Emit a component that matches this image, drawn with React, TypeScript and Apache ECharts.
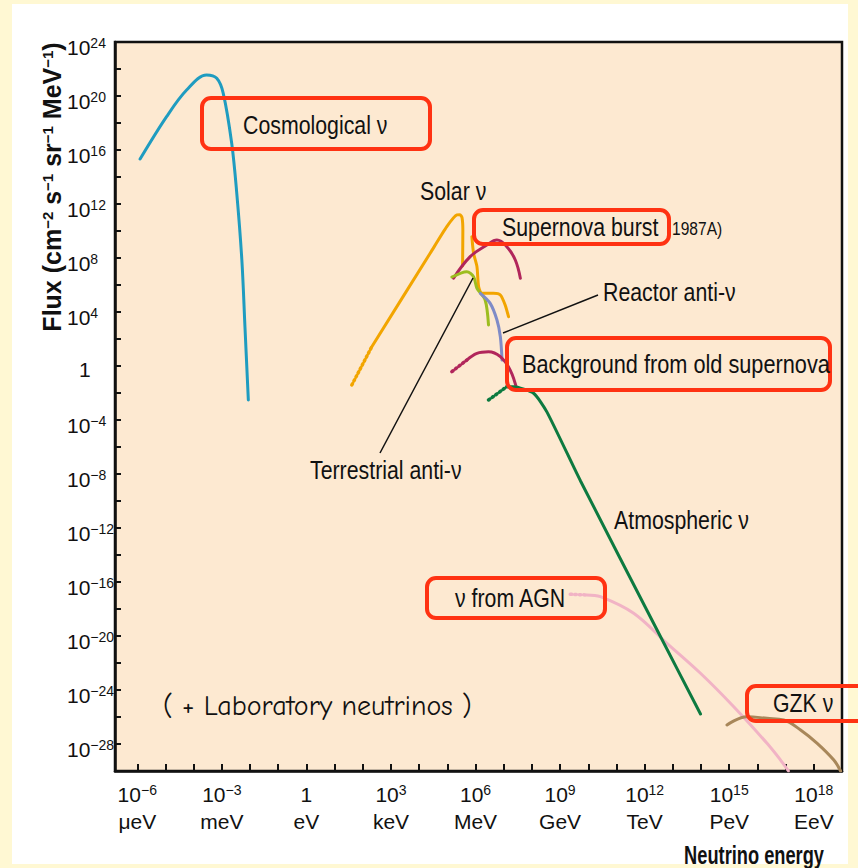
import React, { useEffect, useRef } from 'react';
import * as echarts from 'echarts';

const FONT = "'Liberation Sans', Arial, sans-serif";
const COMIC = "'Comic Sans MS', 'Comic Neue', 'DejaVu Sans', sans-serif";

// All values are log10: x = log10(E / eV), y = log10(flux in cm^-2 s^-1 sr^-1 MeV^-1)
const xTickExps = [-6, -5, -4, -3, -2, -1, 0, 1, 2, 3, 4, 5, 6, 7, 8, 9, 10, 11, 12, 13, 14, 15, 16, 17, 18];
const xLabelExps = [-6, -3, 0, 3, 6, 9, 12, 15, 18];
const xLabelUnits = ['μeV', 'meV', 'eV', 'keV', 'MeV', 'GeV', 'TeV', 'PeV', 'EeV'];

const cosmoLogE = [-5.9, -4.96, -4.25, -3.54, -3.18, -2.95, -2.65, -2.47, -2.29, -2.18, -2.06];
const cosmoLogF = [15.33, 18.47, 20.44, 21.56, 21.31, 20.2, 16.5, 12.79, 7.85, 2.91, -2.52];

const solarDotLogE = [1.61, 2.32];
const solarDotLogF = [-1.41, 1.43];
const solarLogE = [2.32, 4.39, 4.98, 5.34, 5.45, 5.52, 5.55, 5.54];
const solarLogF = [1.43, 8.35, 10.32, 11.19, 11.2, 11.0, 10.07, 7.41];
const solar2LogE = [5.87, 5.93, 6.05, 6.11, 6.23, 6.64, 6.88, 7.05, 7.17];
const solar2LogF = [9.58, 8.35, 7.36, 5.87, 5.38, 5.38, 5.26, 4.52, 3.65];

const burstLogE = [5.22, 5.81, 6.4, 6.76, 7.11, 7.41, 7.59];
const burstLogF = [6.5, 8.1, 8.96, 9.33, 8.84, 7.85, 6.5];

const terrLogE = [5.16, 5.69, 5.93, 6.05, 6.34, 6.46];
const terrLogF = [6.59, 6.99, 6.61, 5.76, 4.89, 3.04];

const reactorLogE = [6.17, 6.52, 6.76, 6.88, 6.94];
const reactorLogF = [5.38, 4.64, 3.41, 2.17, 0.44];

const oldSnDotLogE = [5.16, 5.69];
const oldSnDotLogF = [-0.42, 0.44];
const oldSnLogE = [5.69, 6.05, 6.46, 6.88, 7.23, 7.47];
const oldSnLogF = [0.44, 0.94, 1.06, 0.69, -0.3, -1.78];

const atmoDotLogE = [6.46, 7.11];
const atmoDotLogF = [-2.52, -1.53];
const atmoLogE = [7.11, 7.35, 8.06, 8.53, 9.72, 12.44, 13.98];
const atmoLogF = [-1.53, -1.53, -2.02, -3.4, -8.5, -19.56, -25.78];

const agnDotLogE = [9.36, 9.95];
const agnDotLogF = [-16.91, -16.96];
const agnLogE = [9.95, 10.43, 11.61, 12.79, 13.98, 15.16, 16.34, 16.82, 17.1];
const agnLogF = [-16.96, -17.09, -18.32, -20.54, -22.76, -25.24, -27.95, -29.19, -30];

const gzkLogE = [14.92, 15.63, 16.34, 16.93, 17.53, 18.12, 18.71, 18.95];
const gzkLogF = [-26.59, -25.98, -26.1, -26.22, -26.96, -27.95, -29.19, -30];

const zip = (xs: number[], ys: number[]) => xs.map((x, i) => [x, ys[i]]);

const C = {
  teal: '#1f9cc0',
  orange: '#f2a500',
  crimson: '#b1265b',
  lime: '#9dbd1f',
  blue: '#7f8bc7',
  green: '#0d7a40',
  pink: '#f1b3c5',
  brown: '#a8875a',
  red: '#ff3212',
};

function line(name: string, xs: number[], ys: number[], color: string, dotted = false, smooth = 0.3) {
  return {
    name,
    type: 'line',
    data: zip(xs, ys),
    showSymbol: false,
    smooth,
    z: 3,
    lineStyle: dotted
      ? { color, width: 3.5, type: [1.5, 3], cap: 'round' }
      : { color, width: 3, cap: 'round' },
    emphasis: { disabled: true },
  };
}

const sup = (n: number) => String(n).replace('-', '−');

export default function App() {
  const ref = useRef<HTMLDivElement>(null);
  useEffect(() => {
    if (!ref.current) return;
    const chart = echarts.init(ref.current, undefined, { renderer: 'svg' });
    const box = (x: number, y: number, w: number, h: number) => ({
      type: 'rect', z: 50,
      shape: { x, y, width: w, height: h, r: 9 },
      style: { fill: 'none', stroke: C.red, lineWidth: 4 },
    });
    const txt = (x: number, y: number, text: string, size = 26, extra: any = {}, sx = 0.82) => ({
      type: 'text', z: 60, x, y, scaleX: sx,
      style: { text, fontSize: size, fontFamily: FONT, fill: '#111', align: 'left', verticalAlign: 'middle', ...extra },
    });
    chart.setOption({
      animation: false,
      backgroundColor: 'transparent',
      grid: {
        left: 115, top: 42, width: 727, height: 729,
        show: true, backgroundColor: '#fde9d1', borderColor: '#111', borderWidth: 2.5,
      },
      xAxis: {
        type: 'value', min: -6.79, max: 19,
        axisLine: { onZero: false, lineStyle: { color: '#111', width: 2.5 } },
        axisTick: { inside: true, length: 7, customValues: xTickExps, lineStyle: { color: '#111', width: 2 } },
        splitLine: { show: false },
        axisLabel: {
          customValues: xLabelExps,
          margin: 10,
          formatter: (v: number) => {
            const i = xLabelExps.indexOf(Math.round(v));
            const unit = xLabelUnits[i] ?? '';
            const top = v === 0 ? '{b|1}' : `{b|10}{s|${sup(v)}}`;
            return `${top}\n{u|${unit}}`;
          },
          rich: {
            b: { fontSize: 21, fontFamily: FONT, color: '#111', lineHeight: 27 },
            s: { fontSize: 14, fontFamily: FONT, color: '#111', verticalAlign: 'top', padding: [2, 0, 0, 0] },
            u: { fontSize: 21, fontFamily: FONT, color: '#111', lineHeight: 27 },
          },
        },
      },
      yAxis: {
        type: 'value', min: -30, max: 24, interval: 2,
        axisLine: { onZero: false, lineStyle: { color: '#111', width: 2.5 } },
        axisTick: { inside: true, length: 6, lineStyle: { color: '#111', width: 2 } },
        splitLine: { show: false },
        axisLabel: {
          interval: 0,
          margin: 48,
          align: 'left',
          formatter: (v: number) => {
            if (v % 4 !== 0) return '';
            if (v === 0) return '{one|1}';
            return `{b|10}{s|${sup(v)}}`;
          },
          rich: {
            b: { fontSize: 21, fontFamily: FONT, color: '#111', padding: [10, 0, 0, 0] },
            s: { fontSize: 14, fontFamily: FONT, color: '#111', verticalAlign: 'top', padding: [9, 0, 0, 0] },
            one: { fontSize: 21, fontFamily: FONT, color: '#111', padding: [6, 0, 0, 12] },
          },
        },
      },
      series: [
        line('Cosmological ν', cosmoLogE, cosmoLogF, C.teal, false, 0.35),
        line('Solar ν (low)', solarDotLogE, solarDotLogF, C.orange, true, 0),
        line('Solar ν', solarLogE, solarLogF, C.orange, false, 0.2),
        line('Solar ν 2', solar2LogE, solar2LogF, C.orange, false, 0.25),
        line('Supernova burst', burstLogE, burstLogF, C.crimson, false, 0.4),
        line('Terrestrial anti-ν', terrLogE, terrLogF, C.lime, false, 0.3),
        line('Reactor anti-ν', reactorLogE, reactorLogF, C.blue, false, 0.3),
        line('Old SN (low)', oldSnDotLogE, oldSnDotLogF, C.crimson, true, 0),
        line('Background from old supernova', oldSnLogE, oldSnLogF, C.crimson, false, 0.4),
        line('AGN (low)', agnDotLogE, agnDotLogF, C.pink, true, 0),
        line('ν from AGN', agnLogE, agnLogF, C.pink, false, 0.35),
        line('GZK ν', gzkLogE, gzkLogF, C.brown, false, 0.4),
        line('Atmospheric (low)', atmoDotLogE, atmoDotLogF, C.green, true, 0),
        line('Atmospheric ν', atmoLogE, atmoLogF, C.green, false, 0.2),
      ],
      graphic: [
        {
          type: 'text', z: 60, x: 52, y: 187, rotation: Math.PI / 2,
          style: {
            text: 'Flux (cm{s|−2} s{s|−1} sr{s|−1} MeV{s|−1})',
            fontSize: 25, fontWeight: 'bold', fontFamily: FONT, fill: '#111',
            align: 'center', verticalAlign: 'middle',
            rich: { s: { fontSize: 15, fontWeight: 'bold', fontFamily: FONT, fill: '#111', verticalAlign: 'top' } },
          },
        },
        {
          type: 'text', z: 60, x: 824, y: 855, scaleX: 0.73,
          style: { text: 'Neutrino energy', fontSize: 25, fontWeight: 'bold', fontFamily: FONT, fill: '#111', align: 'right', verticalAlign: 'middle' },
        },
        box(202, 98, 228, 51),
        box(474, 210, 195, 34),
        box(507, 338, 323, 52),
        box(427, 578, 178, 40),
        box(747, 686, 140, 35),
        { type: 'line', z: 55, shape: { x1: 503, y1: 333, x2: 598, y2: 295 }, style: { stroke: '#111', lineWidth: 1.5 } },
        { type: 'line', z: 55, shape: { x1: 473, y1: 278, x2: 380, y2: 453 }, style: { stroke: '#111', lineWidth: 1.5 } },
        txt(243, 125, 'Cosmological ν'),
        txt(420, 191, 'Solar ν'),
        txt(502, 227, 'Supernova burst'),
        txt(672, 228, '1987A)', 19),
        txt(603, 292, 'Reactor anti-ν'),
        txt(522, 364, 'Background from old supernova', 26.5),
        txt(310, 470, 'Terrestrial anti-ν'),
        txt(614, 520, 'Atmospheric ν'),
        txt(455, 598, 'ν from AGN'),
        txt(773, 703, 'GZK ν'),
        txt(163, 706, '( + Laboratory neutrinos )', 28, { fontFamily: COMIC }, 1),
      ],
    });
    return () => chart.dispose();
  }, []);
  return (
    <div style={{ position: 'fixed', left: 0, top: 0, width: 858, height: 868, background: '#fff8d3', overflow: 'hidden' }}>
      <div style={{ position: 'absolute', left: 12, top: 4, width: 836, height: 860, background: '#ffffff' }} />
      <div ref={ref} style={{ position: 'absolute', left: 0, top: 0, width: 858, height: 868 }} />
    </div>
  );
}
